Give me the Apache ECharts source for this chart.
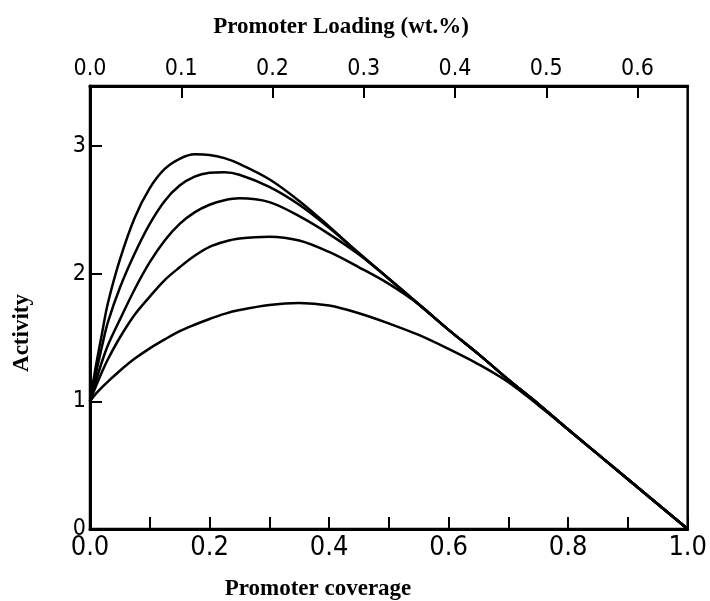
<!DOCTYPE html>
<html>
<head>
    <meta charset="utf-8">
    <title>Activity vs promoter coverage</title>
    <script src="https://cdn.jsdelivr.net/npm/echarts@6/dist/echarts.min.js"></script>
</head>
<body style="margin:0;background:#fff;">
    <div id="main" style="width:710px;height:601px;"></div>
    <script type="text/javascript">
        // promoter coverage (x) shared by all curves
        var coverage = [0, 0.01, 0.02, 0.03, 0.05, 0.075, 0.1, 0.125, 0.15, 0.175, 0.2, 0.225, 0.25,
                        0.3, 0.35, 0.4, 0.45, 0.5, 0.55, 0.6, 0.65, 0.7, 0.75, 0.8, 0.9, 1.0];
        // activity curves, top to bottom
        var curve1 = [1.0, 1.28, 1.53, 1.77, 2.11, 2.44, 2.67, 2.82, 2.90, 2.935, 2.93, 2.905, 2.86,
                      2.74, 2.57, 2.37, 2.16, 1.96, 1.76, 1.56, 1.37, 1.17, 0.98, 0.78, 0.39, 0];
        var curve2 = [1.0, 1.22, 1.43, 1.62, 1.89, 2.16, 2.39, 2.57, 2.69, 2.76, 2.79, 2.795, 2.775,
                      2.68, 2.54, 2.36, 2.16, 1.96, 1.76, 1.56, 1.37, 1.17, 0.98, 0.78, 0.39, 0];
        var curve3 = [1.0, 1.16, 1.31, 1.44, 1.64, 1.88, 2.09, 2.26, 2.39, 2.48, 2.54, 2.575, 2.59,
                      2.56, 2.45, 2.31, 2.15, 1.96, 1.76, 1.56, 1.37, 1.17, 0.98, 0.78, 0.39, 0];
        var curve4 = [1.0, 1.12, 1.23, 1.33, 1.50, 1.68, 1.82, 1.95, 2.05, 2.14, 2.21, 2.25, 2.275,
                      2.29, 2.26, 2.17, 2.05, 1.92, 1.76, 1.56, 1.37, 1.17, 0.98, 0.78, 0.39, 0];
        var curve5 = [1.0, 1.06, 1.11, 1.155, 1.24, 1.335, 1.415, 1.485, 1.55, 1.60, 1.645, 1.685, 1.715,
                      1.755, 1.77, 1.75, 1.69, 1.61, 1.52, 1.41, 1.29, 1.15, 0.97, 0.78, 0.39, 0];
        var curves = [curve1, curve2, curve3, curve4, curve5];

        var labelFont = "'Liberation Sans Narrow', 'DejaVu Sans Condensed', sans-serif";
        var titleFont = "bold 23px 'Liberation Serif', 'Times New Roman', serif";

        function pairs(ys) {
            return coverage.map(function (x, i) { return [x, ys[i]]; });
        }

        var myChart = echarts.init(document.getElementById('main'));
        var option = {
            backgroundColor: '#fff',
            animation: false,
            grid: {
                left: 90, right: 13, top: 86, bottom: 72,
                show: true, borderColor: '#000', borderWidth: 2.5
            },
            graphic: [
                { type: 'text', x: 341, y: 27,
                  style: { text: 'Promoter Loading (wt.%)', font: titleFont, fill: '#000', align: 'center', verticalAlign: 'middle' } },
                { type: 'text', x: 318, y: 589,
                  style: { text: 'Promoter coverage', font: titleFont, fill: '#000', align: 'center', verticalAlign: 'middle' } },
                { type: 'text', x: 22, y: 333, rotation: Math.PI / 2,
                  style: { text: 'Activity', font: titleFont, fill: '#000', align: 'center', verticalAlign: 'middle' } }
            ],
            xAxis: [
                {
                    type: 'value', position: 'bottom', min: 0, max: 1, interval: 0.1,
                    axisLine: { onZero: false, lineStyle: { color: '#000', width: 3 } },
                    axisTick: { inside: true, length: 12, lineStyle: { color: '#000', width: 2 } },
                    splitLine: { show: false },
                    axisLabel: {
                        color: '#000', fontSize: 27, fontFamily: labelFont, margin: 5,
                        formatter: function (v) {
                            return Math.round(v * 10) % 2 === 0 ? v.toFixed(1) : '';
                        }
                    }
                },
                {
                    type: 'value', position: 'top', min: 0, max: 0.655, interval: 0.1,
                    axisLine: { onZero: false, lineStyle: { color: '#000', width: 3 } },
                    axisTick: { inside: true, length: 12, lineStyle: { color: '#000', width: 2 } },
                    splitLine: { show: false },
                    axisLabel: {
                        color: '#000', fontSize: 23, fontFamily: labelFont, margin: 5,
                        showMaxLabel: false,
                        formatter: function (v) { return v.toFixed(1); }
                    }
                }
            ],
            yAxis: {
                type: 'value', min: 0, max: 3.47, interval: 1,
                axisLine: { onZero: false, lineStyle: { color: '#000', width: 3 } },
                axisTick: { inside: true, length: 12, lineStyle: { color: '#000', width: 2 } },
                splitLine: { show: false },
                axisLabel: {
                    color: '#000', fontSize: 23, fontFamily: labelFont, margin: 4,
                    showMaxLabel: false
                }
            },
            series: curves.map(function (c) {
                return {
                    type: 'line',
                    xAxisIndex: 0,
                    data: pairs(c),
                    smooth: 0.35,
                    showSymbol: false,
                    lineStyle: { color: '#000', width: 2.5 }
                };
            })
        };
        myChart.setOption(option);
    </script>
</body>
</html>
